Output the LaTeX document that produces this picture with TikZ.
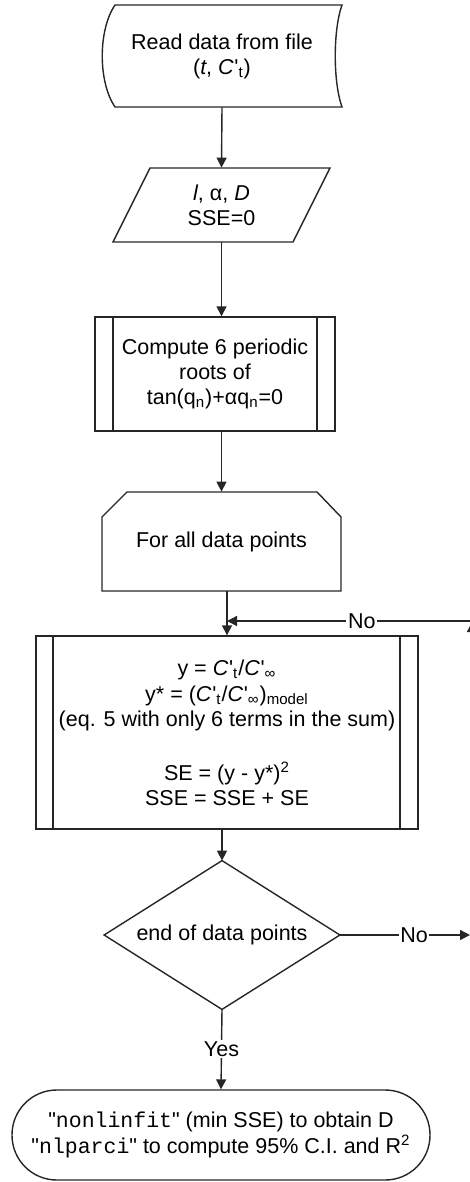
\documentclass[tikz,border=0pt]{standalone}
\usepackage{fontspec}
\setmainfont{Liberation Sans}
\setmonofont{Liberation Mono}
\usetikzlibrary{arrows.meta}
\newcommand{\Cp}[1]{\textit{C}\kern0.03em\textquotesingle\textsubscript{#1}}
\newcommand{\qd}{\textquotedbl}
\begin{document}
\begin{tikzpicture}[x=0.5pt,y=-0.5pt,
  every node/.style={inner sep=0pt, align=center, font=\fontsize{10.75}{12.5}\selectfont},
  txtbox/.style={draw=none},
  ln/.style={line width=0.7pt, draw=black!85, line join=miter},
  arr/.style={ln, -{Triangle[length=5pt,width=5pt]}},
  lab/.style={fill=white, inner sep=0.8pt}]
\useasboundingbox (0,0) rectangle (470,1182);
\clip (0,0) rectangle (470,1182);

% nodes
\node[txtbox, minimum width=120pt, minimum height=51pt] (read) at (222,56)
  {Read data from file\\(\textit{t}, \Cp{t})};
\node[txtbox, minimum width=90pt, minimum height=37pt] (param) at (221.5,205)
  {\textit{l}, α, \textit{D}\\SSE=0};
\node[ln, draw, minimum width=120pt, minimum height=57pt] (comp) at (215,374)
  {Compute 6 periodic\\roots of\\tan(q\textsubscript{n})+αq\textsubscript{n}=0};
\node[txtbox, minimum width=119.5pt, minimum height=49.5pt] (loop) at (221.5,541.5)
  {For all data points};
\node[ln, draw, minimum width=191pt, minimum height=96.5pt] (big) at (227,732.5)
  {y = \Cp{t}/\Cp{∞}\\[0.6pt]
   y* = (\Cp{t}/\Cp{∞})\textsubscript{model}\\
   (eq. 5 with only 6 terms in the sum)\\[14.5pt]
   SE = (y - y*)\textsuperscript{2}\\
   SSE = SSE + SE};
\node[txtbox, minimum width=117.5pt, minimum height=74pt] (dec) at (222,935)
  {end of data points};
\node[ln, draw, rounded corners=22.4pt, minimum width=209pt, minimum height=45pt] (term) at (221,1135)
  {\qd\texttt{nonlinfit}\qd\ (min SSE) to obtain D\\[0.8pt]
   \qd\texttt{nlparci}\qd\ to compute 95\% C.I. and R\textsuperscript{2}};

% outlines
\draw[ln] (115,5) -- (342,5) .. controls (333,30) and (333,82) .. (342,107)
  -- (115,107) .. controls (98,82) and (98,30) .. cycle;
\draw[ln] (150,168) -- (330,168) -- (293,242) -- (113,242) -- cycle;
\draw[ln] (113,317) -- (113,431) (317,317) -- (317,431);
\draw[ln] (102,591) -- (102,517) -- (127,492) -- (317,492) -- (341,517) -- (341,591) -- cycle;
\draw[ln] (53,636) -- (53,829) (400,636) -- (400,829);
\draw[ln] (dec.north) -- (dec.east) -- (dec.south) -- (dec.west) -- cycle;

% connectors
\coordinate (rb) at (472,935);
\coordinate (rt) at (472,622);
\coordinate (rl) at (472,621);
\draw[arr] (read.south) -- (param.north);
\draw[arr] (param.south) -- (param.south |- comp.north);
\draw[arr] (comp.south -| loop.north) -- (loop.north);
\draw[arr] (loop.south -| big.north) -- (big.north);
\draw[arr] (rl) -- node[lab, pos=0.45]{No} (rl -| big.north);
\draw[arr] (big.south -| dec.north) -- (dec.north);
\draw[arr] (dec.east) -- node[lab, pos=0.57]{No} (470,935);
\draw[arr] (rb) -- (rt);
\draw[arr] (dec.south) -- node[lab, pos=0.5]{Yes} (term.north);
\end{tikzpicture}
\end{document}
